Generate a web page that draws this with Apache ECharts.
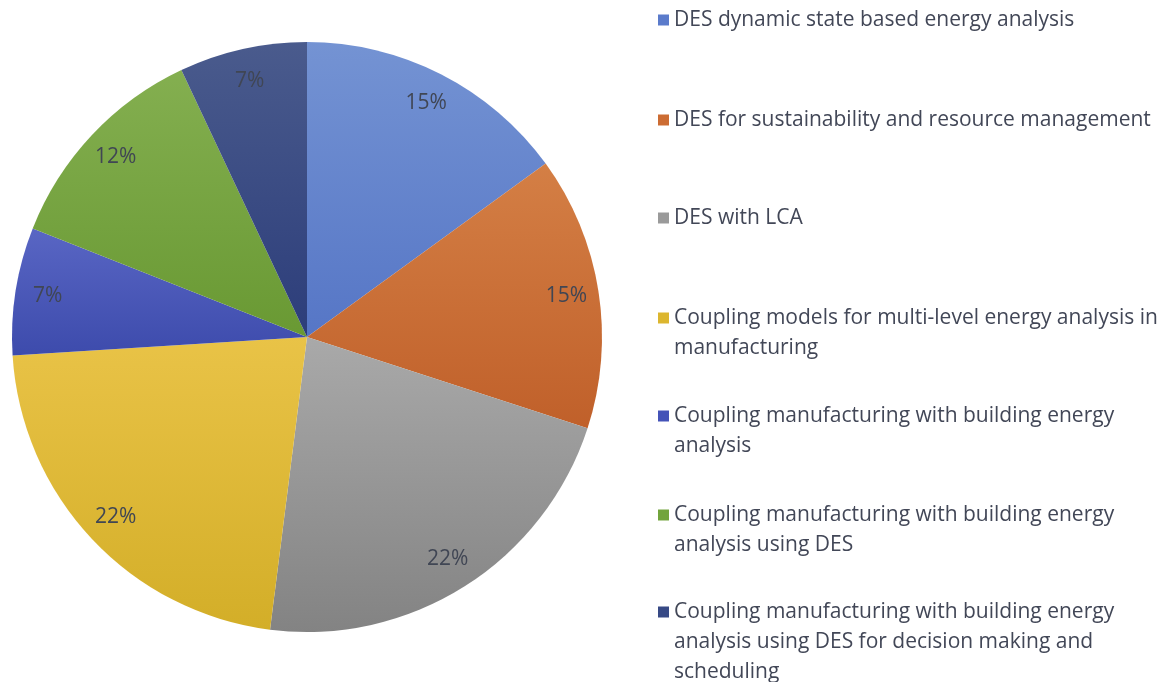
<!DOCTYPE html>
<html>
<head>
<meta charset="utf-8">
<script src="https://cdn.jsdelivr.net/npm/echarts@6/dist/echarts.min.js"></script>
<style>
  html, body { margin: 0; padding: 0; background: #fff; }
  #chart { width: 1172px; height: 682px; }
</style>
</head>
<body>
<div id="chart"></div>
<script>
// slices, clockwise from 12 o'clock
const categories = [
  "DES dynamic state based energy analysis",
  "DES for sustainability and resource management",
  "DES with LCA",
  "Coupling models for multi-level energy analysis in manufacturing",
  "Coupling manufacturing with building energy analysis",
  "Coupling manufacturing with building energy analysis using DES",
  "Coupling manufacturing with building energy analysis using DES for decision making and scheduling",
];
const shares = [15, 15, 22, 22, 7, 12, 7];

// legend text as wrapped in the picture
const legendLines = [
  ["DES dynamic state based energy analysis"],
  ["DES for sustainability and resource management"],
  ["DES with LCA"],
  ["Coupling models for multi-level energy analysis in", "manufacturing"],
  ["Coupling manufacturing with building energy", "analysis"],
  ["Coupling manufacturing with building energy", "analysis using DES"],
  ["Coupling manufacturing with building energy", "analysis using DES for decision making and", "scheduling"],
];

// slice colours: [top, bottom, legend swatch]
const sliceColors = [
  ["#7493d3", "#5676c6", "#5b7bcb"],
  ["#d47f45", "#c0602a", "#cc6c33"],
  ["#a9a9a9", "#838383", "#9a9a9a"],
  ["#e9c347", "#d3ae28", "#dcb62f"],
  ["#5966c4", "#3d4bac", "#4453b8"],
  ["#84af50", "#699933", "#72a43c"],
  ["#4a5b8d", "#2c3d7a", "#374985"],
];

const font = "'Open Sans', 'Noto Sans', sans-serif";
const textColor = "#424757";
const center = [307, 337];
const radius = 295;
const lineH = 30;
const firstLineY = [20, 120, 218, 318, 416, 515, 612];

const chart = echarts.init(document.getElementById("chart"));

const pieData = categories.map((name, i) => ({
  name: name,
  value: shares[i],
  itemStyle: {
    color: new echarts.graphic.LinearGradient(0, 0, 0, 1, [
      { offset: 0, color: sliceColors[i][0] },
      { offset: 1, color: sliceColors[i][1] },
    ]),
  },
}));

// one legend per entry so the first lines keep an even step
const legends = categories.map((name, i) => {
  const n = legendLines[i].length;
  return {
    data: [{ name: name, itemStyle: { color: sliceColors[i][2] } }],
    orient: "vertical",
    left: 658,
    top: firstLineY[i] - (lineH / 2) * (2 * n - 1),
    padding: 0,
    icon: "rect",
    itemWidth: 11,
    itemHeight: 11,
    selectedMode: false,
    // blank lines above keep the first line level with the swatch
    formatter: () => "\n".repeat(n - 1) + legendLines[i].join("\n"),
    textStyle: {
      fontFamily: font,
      fontSize: 21,
      lineHeight: lineH,
      color: textColor,
    },
  };
});

const option = {
  animation: false,
  legend: legends,
  series: [
    {
      name: "slices",
      type: "pie",
      center: center,
      radius: [0, radius],
      startAngle: 90,
      clockwise: true,
      label: { show: false },
      labelLine: { show: false },
      emphasis: { disabled: true },
      data: pieData,
    },
    {
      // transparent ring that only carries the percentage labels near the rim
      name: "labels",
      type: "pie",
      center: center,
      radius: [radius * 0.76, radius],
      startAngle: 90,
      clockwise: true,
      silent: true,
      itemStyle: { color: "transparent" },
      label: {
        show: true,
        position: "inside",
        formatter: "{c}%",
        fontFamily: font,
        fontSize: 21,
        color: "#404654",
      },
      labelLine: { show: false },
      emphasis: { disabled: true },
      data: categories.map((name, i) => ({ name: name, value: shares[i] })),
    },
  ],
};

chart.setOption(option);
</script>
</body>
</html>
